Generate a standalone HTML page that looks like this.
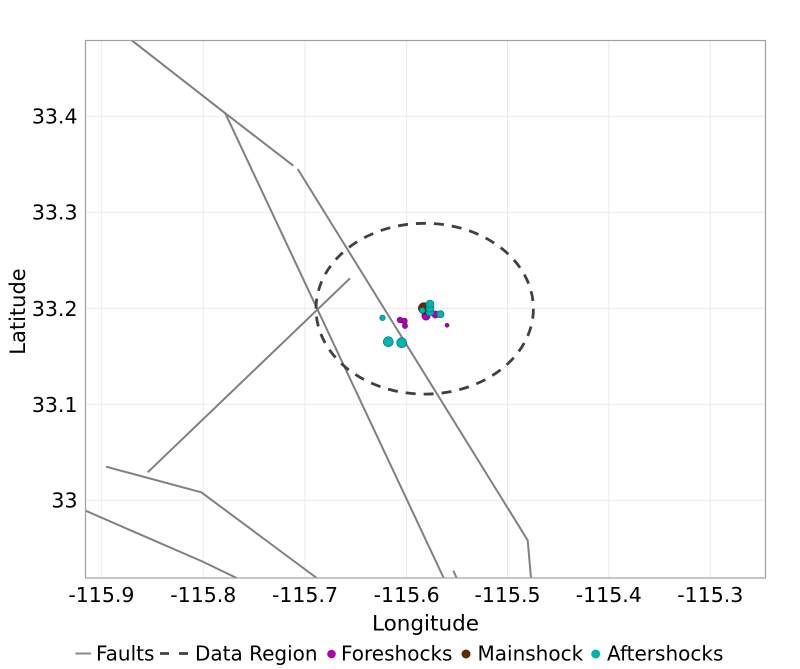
<!DOCTYPE html>
<html>
<head>
<meta charset="utf-8">
<style>
  html, body { margin:0; padding:0; background:#ffffff; }
  svg { display:block; font-family:"DejaVu Sans","Liberation Sans",sans-serif; }
</style>
</head>
<body>
<svg width="800" height="669" viewBox="0 0 800 669" xmlns="http://www.w3.org/2000/svg">
  <rect x="0" y="0" width="800" height="669" fill="#ffffff"/>
  <!-- gridlines -->
  <g stroke="#ebebeb" stroke-width="1">
    <line x1="101.4" y1="40" x2="101.4" y2="578"/>
    <line x1="203.3" y1="40" x2="203.3" y2="578"/>
    <line x1="305" y1="40" x2="305" y2="578"/>
    <line x1="406.7" y1="40" x2="406.7" y2="578"/>
    <line x1="507.5" y1="40" x2="507.5" y2="578"/>
    <line x1="608.8" y1="40" x2="608.8" y2="578"/>
    <line x1="710.3" y1="40" x2="710.3" y2="578"/>
    <line x1="85.5" y1="116.3" x2="765.5" y2="116.3"/>
    <line x1="85.5" y1="212.3" x2="765.5" y2="212.3"/>
    <line x1="85.5" y1="308.3" x2="765.5" y2="308.3"/>
    <line x1="85.5" y1="404.3" x2="765.5" y2="404.3"/>
    <line x1="85.5" y1="500.3" x2="765.5" y2="500.3"/>
  </g>
  <defs>
    <clipPath id="plot"><rect x="85.5" y="40" width="680" height="538"/></clipPath>
  </defs>
  <g clip-path="url(#plot)" fill="none" stroke="#808080" stroke-width="2" stroke-linejoin="round">
    <polyline points="131.7,40.3 225.3,113.3 293.3,165.7"/>
    <polyline points="297.7,169 527.7,540.3 531,578"/>
    <polyline points="225.3,113.3 443.7,578"/>
    <polyline points="147.7,472.3 350,278.3"/>
    <polyline points="106,466.7 201.3,492.3 316.7,578"/>
    <polyline points="85.5,510.7 201.3,561 236.7,578"/>
    <polyline points="453.3,570.7 456.7,578"/>
  </g>
  <!-- data region -->
  <ellipse cx="424.7" cy="308.7" rx="108.7" ry="85.4" fill="none" stroke="#404040" stroke-width="2.8" stroke-dasharray="10 8"/>
  <!-- foreshocks -->
  <g fill="#b000b0" stroke="#6a006a" stroke-width="0.6">
    <circle cx="400" cy="320" r="2.8"/>
    <circle cx="404.3" cy="321" r="3"/>
    <circle cx="405" cy="326" r="2.6"/>
    <circle cx="447" cy="325.3" r="2"/>
    <circle cx="426" cy="316" r="4.2"/>
    <circle cx="435.5" cy="314.5" r="3.6"/>
  </g>
  <!-- mainshock -->
  <circle cx="424" cy="308.3" r="5.6" fill="#5c2e00" stroke="#3a1d00" stroke-width="0.6"/>
  <!-- aftershocks -->
  <g fill="#00b3b3" stroke="#007070" stroke-width="0.6">
    <circle cx="382.5" cy="317.8" r="2.8"/>
    <circle cx="388.3" cy="341.7" r="5"/>
    <circle cx="401.7" cy="342.7" r="5"/>
    <circle cx="422.3" cy="310.5" r="2.8"/>
    <circle cx="430" cy="312" r="4"/>
    <circle cx="430" cy="308" r="4"/>
    <circle cx="430" cy="304" r="4"/>
    <circle cx="440.5" cy="314.2" r="3.6"/>
  </g>
  <!-- panel border -->
  <rect x="85.5" y="40.5" width="680" height="537.5" fill="none" stroke="#a0a0a0" stroke-width="1.2"/>
  <!-- y tick labels -->
  <g font-size="20.5" fill="#000" text-anchor="end">
    <text x="77.5" y="123.7">33.4</text>
    <text x="77.5" y="219.7">33.3</text>
    <text x="77.5" y="316">33.2</text>
    <text x="77.5" y="412">33.1</text>
    <text x="77.5" y="507.7">33</text>
  </g>
  <!-- x tick labels -->
  <g font-size="20.5" fill="#000" text-anchor="middle">
    <text x="101.4" y="601.9">-115.9</text>
    <text x="203.3" y="601.9">-115.8</text>
    <text x="305" y="601.9">-115.7</text>
    <text x="406.7" y="601.9">-115.6</text>
    <text x="507.5" y="601.9">-115.5</text>
    <text x="608.8" y="601.9">-115.4</text>
    <text x="710.3" y="601.9">-115.3</text>
  </g>
  <!-- axis titles -->
  <text x="425.5" y="630.5" font-size="21.5" text-anchor="middle" fill="#000">Longitude</text>
  <text transform="translate(25,311.5) rotate(-90)" font-size="21" text-anchor="middle" fill="#000">Latitude</text>
  <!-- legend -->
  <line x1="75.5" y1="653.5" x2="91" y2="653.5" stroke="#888888" stroke-width="2"/>
  <text x="96" y="660.7" font-size="20" fill="#000">Faults</text>
  <line x1="160" y1="653.5" x2="189" y2="653.5" stroke="#404040" stroke-width="2.8" stroke-dasharray="9 10"/>
  <text x="195" y="660.7" font-size="20" fill="#000">Data Region</text>
  <circle cx="331.5" cy="654" r="4.3" fill="#b000b0"/>
  <text x="341" y="660.7" font-size="20" fill="#000">Foreshocks</text>
  <circle cx="466" cy="654" r="4.5" fill="#5c2e00"/>
  <text x="477.5" y="660.7" font-size="20" fill="#000">Mainshock</text>
  <circle cx="595.7" cy="654" r="4.5" fill="#00b3b3"/>
  <text x="607" y="660.7" font-size="20" fill="#000">Aftershocks</text>
</svg>
</body>
</html>
